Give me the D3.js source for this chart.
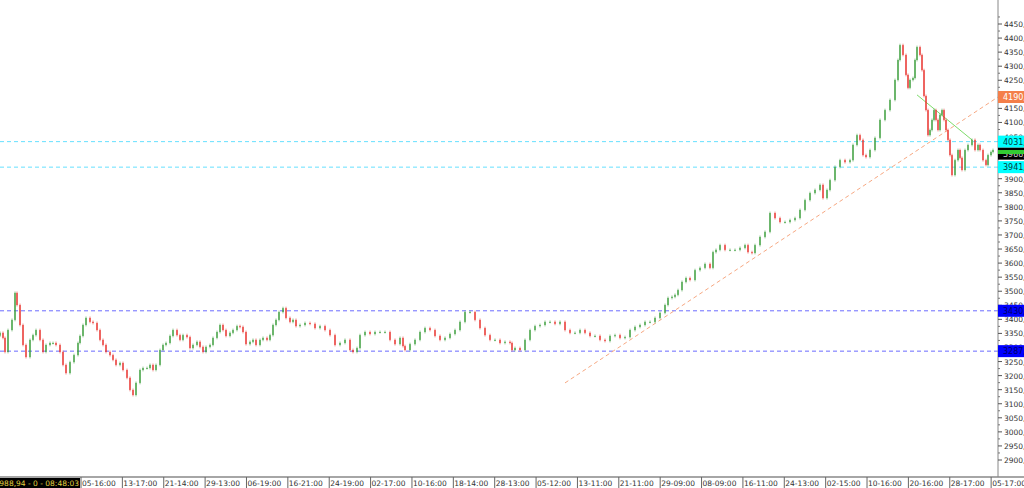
<!DOCTYPE html>
<html><head><meta charset="utf-8">
<script src="https://cdn.jsdelivr.net/npm/d3@7/dist/d3.min.js"></script>
<style>body{margin:0;background:#fff}svg{display:block;font-family:"DejaVu Sans",sans-serif}</style>
</head><body><svg id="c" width="1024" height="488"></svg>
<script>
// bar time index (hours-ish) and close prices
const times = [0,3,5,8,12,15,17,20,23,26,30,33,36,40,43,46,50,53,56,60,63,66,70,74,78,80,83,86,90,93,97,100,103,106,110,113,116,120,123,127,130,133,136,140,143,147,150,153,156,160,163,166,170,173,177,180,183,187,190,193,197,200,203,206,210,213,217,220,223,226,230,233,237,240,243,246,250,253,256,260,263,267,270,273,276,279,283,286,290,293,296,300,305,310,315,320,325,330,335,340,345,350,353,357,360,365,370,375,380,385,390,395,400,403,405,410,415,420,425,430,435,440,445,450,455,460,465,470,475,480,485,490,495,500,505,510,512,515,520,525,530,535,540,545,550,555,560,565,570,575,580,585,590,595,600,605,610,615,620,625,630,635,640,645,650,655,660,665,668,672,675,678,682,686,690,695,700,705,710,713,716,720,725,730,735,740,745,748,752,755,760,765,770,775,780,785,790,795,800,805,810,815,820,823,827,830,835,840,845,850,853,857,860,863,866,870,875,880,885,890,895,898,900,903,906,908,910,913,915,917,920,922,924,926,928,930,932,934,936,938,940,942,944,946,948,950,952,955,958,960,962,965,968,972,975,978,980,983,986,988,991,993];
const closes = [3352,3334,3284,3362,3398,3494,3451,3380,3309,3266,3327,3344,3362,3327,3284,3309,3316,3316,3309,3284,3238,3209,3248,3273,3316,3341,3380,3405,3391,3387,3362,3327,3309,3284,3273,3256,3238,3245,3220,3192,3149,3131,3174,3220,3227,3227,3238,3220,3238,3291,3309,3316,3341,3362,3344,3327,3344,3337,3298,3309,3320,3302,3284,3302,3309,3334,3355,3380,3362,3341,3352,3362,3376,3373,3355,3312,3320,3327,3309,3327,3334,3327,3344,3380,3398,3426,3440,3405,3391,3398,3376,3380,3387,3384,3369,3376,3362,3344,3309,3316,3327,3291,3284,3298,3344,3355,3348,3355,3355,3355,3327,3312,3334,3305,3291,3312,3327,3355,3369,3362,3341,3327,3334,3348,3362,3391,3426,3426,3398,3369,3344,3327,3327,3316,3320,3316,3291,3298,3291,3327,3362,3376,3380,3391,3391,3384,3391,3362,3352,3352,3362,3352,3341,3341,3327,3323,3341,3344,3334,3337,3362,3373,3380,3391,3391,3405,3423,3451,3476,3480,3487,3504,3533,3547,3540,3575,3583,3597,3583,3639,3647,3664,3647,3647,3647,3654,3664,3639,3636,3664,3693,3711,3778,3760,3746,3746,3753,3760,3789,3824,3849,3860,3878,3831,3860,3895,3942,3966,3959,3966,4020,4055,4038,3984,3977,4002,4045,4109,4144,4180,4251,4322,4375,4340,4269,4223,4251,4258,4322,4368,4340,4286,4194,4144,4055,4073,4109,4144,4109,4073,4127,4144,4109,4073,4038,3984,3913,3966,4002,3974,3931,4002,4020,4038,4002,4020,4002,3966,3949,3984,3995,4002];
const yTicks = d3.range(2900, 4451, 50);
const xLabels = ["05-16:00","13-17:00","21-14:00","29-13:00","06-19:00","16-21:00","24-19:00","02-17:00","10-16:00","18-14:00","28-13:00","05-12:00","13-11:00","21-11:00","29-09:00","08-09:00","16-11:00","24-13:00","02-15:00","10-16:00","20-16:00","28-17:00","05-17:00"];
const xLabelTimes = d3.range(xLabels.length).map(i => 81 + 41.37 * i);
const hLevels = [{v:3430.4,c:"#6b6bff",lab:"3430,4",bg:"#0000ff",fg:"#000066"},{v:3287.0,c:"#6b6bff",lab:"3287,0",bg:"#0000ff",fg:"#000066"},{v:4031.8,c:"#66e0ff",lab:"4031,8",bg:"#00ffff",fg:"#004040"},{v:3941.1,c:"#66e0ff",lab:"3941,1",bg:"#00ffff",fg:"#004040"}];
const trendUp = [{t:565,v:3174},{t:998,v:4190.5}];
const trendDown = [{t:917,v:4198},{t:972,v:4038}];
const lastPrice = 3988.94;

const svg = d3.select("#c");
const W = 998, H = 477;
const x = d3.scaleLinear().domain([0, 998]).range([0, W]);
const y = d3.scaleLinear().domain([2900, 4450]).range([460, 24]);

hLevels.forEach(l => svg.append("line").attr("x1",0).attr("x2",W).attr("y1",y(l.v)).attr("y2",y(l.v))
  .attr("stroke",l.c).attr("stroke-dasharray","4,3").attr("stroke-width",1));
svg.append("line").attr("x1",x(trendUp[0].t)).attr("y1",y(trendUp[0].v)).attr("x2",x(trendUp[1].t)).attr("y2",y(trendUp[1].v))
  .attr("stroke","#f7a882").attr("stroke-dasharray","4,3");
svg.append("line").attr("x1",x(trendDown[0].t)).attr("y1",y(trendDown[0].v)).attr("x2",x(trendDown[1].t)).attr("y2",y(trendDown[1].v))
  .attr("stroke","#7ddc6a").attr("stroke-width",1);

const n = Math.min(times.length, closes.length);
const bars = d3.range(n).map(i => ({t:times[i], o: i ? closes[i-1] : closes[i] - 10, c:closes[i]}));
const g = svg.append("g");
bars.forEach(b => {
  const up = b.c >= b.o, col = up ? "#3a9d3a" : "#e8302a";
  const hi = Math.max(b.o,b.c) + 5, lo = Math.min(b.o,b.c) - 5;
  g.append("line").attr("x1",x(b.t)).attr("x2",x(b.t)).attr("y1",y(hi)).attr("y2",y(lo)).attr("stroke",col).attr("stroke-width",0.8).attr("opacity",0.7);
  g.append("rect").attr("x",x(b.t)-0.8).attr("width",1.6).attr("y",y(Math.max(b.o,b.c))).attr("height",Math.max(1,y(Math.min(b.o,b.c))-y(Math.max(b.o,b.c))))
    .attr("fill",col).attr("opacity",0.8);
});

const ax = svg.append("g").attr("transform",`translate(${W},0)`);
ax.append("line").attr("y1",0).attr("y2",H).attr("stroke","#888");
yTicks.forEach(v => {
  ax.append("line").attr("x1",0).attr("x2",4).attr("y1",y(v)).attr("y2",y(v)).attr("stroke","#555");
  ax.append("line").attr("x1",0).attr("x2",2).attr("y1",y(v+25)).attr("y2",y(v+25)).attr("stroke","#777");
  ax.append("text").attr("x",6).attr("y",y(v)+3).attr("font-size",7.5).attr("fill","#333").text(d3.format(".2f")(v).replace(".",","));
});
function tag(v, lab, bg, fg){
  ax.append("rect").attr("x",0).attr("y",y(v)-6).attr("width",26).attr("height",12).attr("fill",bg);
  ax.append("text").attr("x",5).attr("y",y(v)+3).attr("font-size",8).attr("fill",fg).text(lab);
}
tag(trendUp[1].v,"4190,5","#f47f4a","#fff");
hLevels.forEach(l => tag(l.v,l.lab,l.bg,l.fg));
svg.append("rect").attr("x",W).attr("y",y(4002)).attr("width",26).attr("height",4).attr("fill","#33cc33");
tag(lastPrice,"3988,9","#000","#ccc");

svg.append("rect").attr("x",0).attr("y",H).attr("width",1024).attr("height",11).attr("fill","#fff");
svg.append("line").attr("x1",0).attr("x2",1024).attr("y1",H).attr("y2",H).attr("stroke","#888").attr("stroke-width",1.5);
xLabels.forEach((l,i) => {
  const px = x(xLabelTimes[i]);
  svg.append("line").attr("x1",px).attr("x2",px).attr("y1",H).attr("y2",488).attr("stroke","#666");
  svg.append("text").attr("x",px+1).attr("y",486).attr("font-size",7.5).attr("fill","#333").text(l);
});
svg.append("rect").attr("x",0).attr("y",H+1).attr("width",80).attr("height",11).attr("fill","#000");
svg.append("text").attr("x",79).attr("y",486).attr("text-anchor","end").attr("font-size",7.5).attr("fill","#e0d040").text("3.988,94 - 0 - 08:48:03");
</script></body></html>
